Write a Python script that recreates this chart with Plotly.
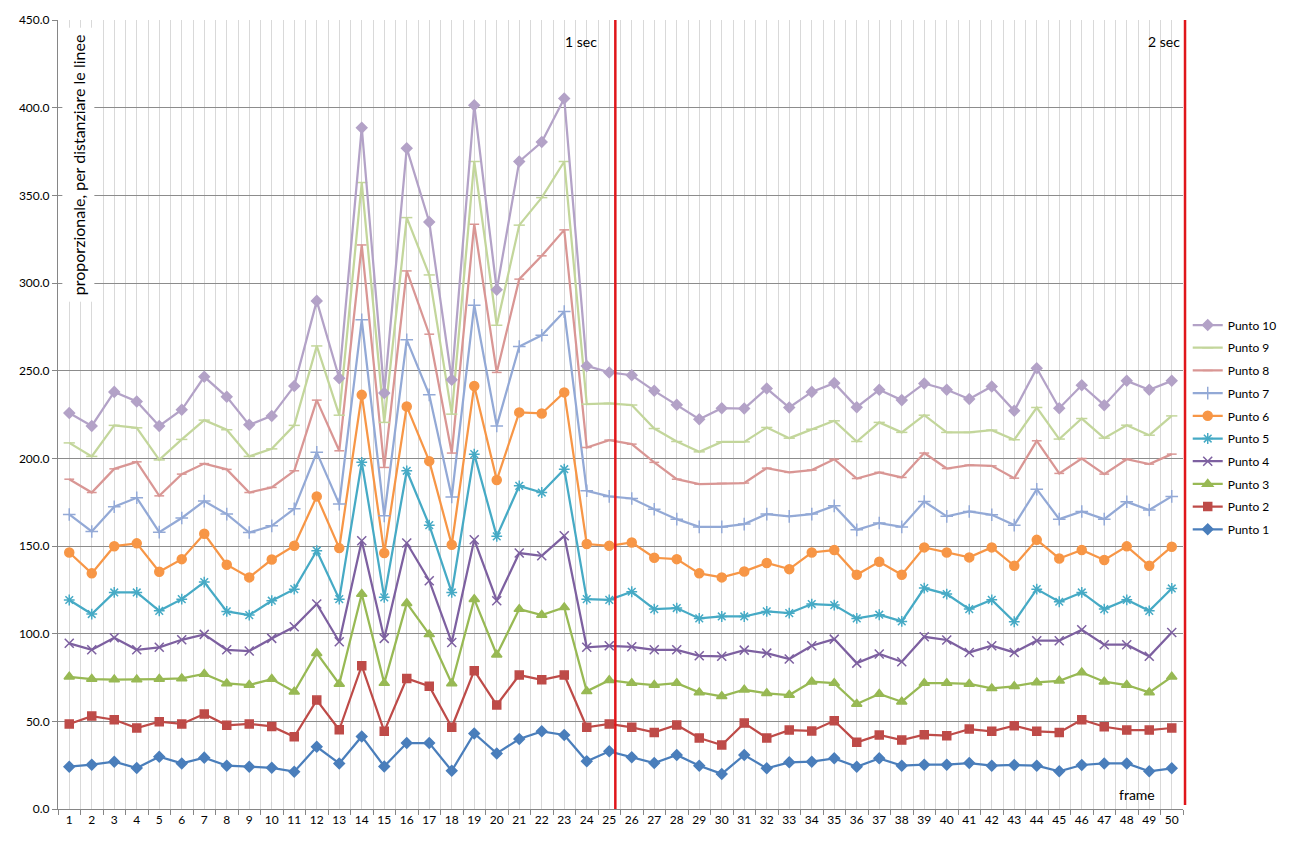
import plotly.graph_objects as go

frames = list(range(1, 51))

p1 = [24.1,25.3,27.0,23.4,29.8,26.0,29.3,24.7,24.1,23.5,21.3,35.5,
      26.0,41.4,24.3,37.6,37.6,21.8,43.1,31.7,39.9,44.3,42.2,27.2,32.9,29.5,26.2,
      30.8,24.7,20.0,30.8,23.2,26.6,27.0,28.9,24.1,28.9,24.7,25.3,25.3,26.2,
      24.7,25.1,24.7,21.5,25.1,26.0,26.0,21.5,23.2]
p2 = [48.5,53.0,50.9,46.2,49.8,48.5,54.2,47.7,48.5,47.1,41.2,62.1,
      45.2,81.7,44.3,74.5,70.0,46.6,78.9,59.3,76.4,73.7,76.4,46.6,48.5,46.6,43.7,
      47.9,40.5,36.5,49.0,40.5,45.0,44.5,50.3,38.0,42.2,39.3,42.4,41.8,45.6,
      44.3,47.5,44.3,43.7,50.9,46.9,45.0,45.0,46.2]
p3 = [75.4,74.1,73.8,73.8,74.1,74.5,77.0,71.6,70.7,74.1,66.9,88.9,
      71.3,122.6,71.8,117.4,99.6,71.6,119.7,88.0,114.0,110.6,115.0,67.1,73.5,71.8,70.7,
      71.8,66.5,64.3,68.0,66.0,65.0,72.6,71.8,59.9,65.6,61.2,71.8,71.8,71.3,
      68.8,70.0,72.2,73.1,77.9,72.6,70.7,66.5,75.4]
p4 = [94.5,90.8,97.7,90.8,92.2,96.5,99.6,90.8,90.1,97.3,103.9,116.9,
      95.4,153.0,97.3,151.7,130.2,95.0,153.6,118.8,146.0,144.4,155.8,92.2,93.1,92.5,90.8,
      90.8,87.4,87.1,90.6,88.9,85.5,93.1,96.9,83.2,88.4,84.0,98.2,96.4,89.3,
      93.1,89.3,96.0,96.0,102.2,93.7,93.7,87.1,100.7]
p5 = [119.2,111.2,123.5,123.5,113.0,119.7,129.4,112.7,110.6,118.8,125.4,147.3,
      119.7,197.7,120.7,192.9,161.9,123.5,202.4,155.5,184.3,180.5,193.8,119.7,119.3,123.9,114.0,
      114.6,108.7,109.8,109.8,112.7,111.7,116.9,116.3,108.7,110.8,107.0,126.0,122.6,114.0,
      119.3,106.8,125.4,118.2,123.5,114.0,119.3,113.0,125.8]
p6 = [146.3,134.4,149.9,151.5,135.3,142.5,157.0,139.3,132.1,142.3,150.1,178.3,
      148.8,236.2,146.0,229.6,198.4,150.7,241.3,187.6,226.2,225.6,237.6,151.1,150.1,152.0,143.3,
      142.5,134.4,132.1,135.5,140.3,136.8,146.3,147.7,133.6,141.0,133.6,149.2,146.3,143.5,
      149.2,138.7,153.5,142.9,147.7,142.0,149.8,138.7,149.6]
p7 = [168.0,158.3,172.4,177.5,157.9,166.0,175.6,168.2,157.7,161.5,171.2,203.4,
      173.9,279.0,167.2,267.6,236.2,178.0,287.3,218.5,263.8,270.2,283.7,181.5,178.3,177.1,171.0,
      165.3,160.9,160.9,162.5,168.2,166.9,168.2,172.9,159.2,163.1,160.9,175.4,166.9,169.7,
      167.8,161.9,182.4,165.3,169.7,165.3,175.2,170.5,178.3]
p8 = [188.1,180.5,194.0,198.0,178.6,191.0,197.0,193.7,180.5,183.4,192.9,233.2,
      204.3,321.7,194.8,306.9,270.8,203.0,333.5,249.0,302.2,315.5,330.3,206.2,210.4,208.1,197.7,
      188.1,185.3,185.7,185.9,194.4,192.0,193.3,199.5,188.5,192.0,189.1,203.0,194.2,196.1,
      195.7,188.7,210.0,191.4,199.9,191.0,199.5,196.7,202.4]
p9 = [208.8,201.1,218.8,217.4,199.1,210.8,221.8,216.3,201.1,205.4,218.8,264.1,
      224.6,357.3,220.5,337.3,304.6,225.2,369.3,275.9,333.0,348.7,369.3,230.9,231.3,230.4,217.0,
      209.6,203.7,209.4,209.4,217.6,211.5,216.6,221.4,209.6,220.5,214.8,224.6,214.8,214.8,
      216.1,210.6,229.0,211.0,222.7,211.5,218.9,213.2,224.2]
p10 = [225.8,218.5,237.9,232.4,218.5,227.7,246.5,235.1,219.1,224.2,241.2,289.8,
       245.7,388.6,237.2,376.9,334.8,244.8,401.4,296.1,369.3,380.4,405.2,252.7,249.0,247.4,238.5,
       230.5,222.3,228.6,228.4,239.8,229.0,237.9,242.9,229.2,239.1,233.2,242.7,239.1,233.8,
       241.0,227.1,251.4,228.6,241.7,230.3,244.2,239.1,244.2]

series_names = ["Punto 1", "Punto 2", "Punto 3", "Punto 4", "Punto 5",
                "Punto 6", "Punto 7", "Punto 8", "Punto 9", "Punto 10"]
series_values = [p1, p2, p3, p4, p5, p6, p7, p8, p9, p10]

colors = ["#4A7EBB", "#BE4B48", "#98B954", "#7D60A0", "#46AAC5",
          "#F79646", "#93A9D6", "#D99694", "#C3D69B", "#B3A2C7"]
symbols = ["diamond", "square", "triangle-up", "x-thin-open", "asterisk-open",
           "circle", "cross-thin-open", "line-ew-open", "line-ew-open", "diamond"]
sizes = [8, 8, 9, 9, 9, 9, 9, 7, 8, 8]

sec_labels = ["1 sec", "2 sec"]

fig = go.Figure()
n = len(series_names)
for i, (name, vals, c, s, sz) in enumerate(zip(series_names, series_values, colors, symbols, sizes)):
    fig.add_trace(go.Scatter(
        x=frames, y=vals, name=name, mode="lines+markers", legendgroup=name,
        legendrank=(n - i) * 10,
        line=dict(color=c, width=2.25),
        marker=dict(symbol=s, size=sz, color=c, line=dict(color=c, width=1.5)),
    ))

FONT = "Lato"
RED = "#E0161B"

# 1 sec marker line (inside the data range) and 2 sec line at the right edge
fig.add_shape(type="line", xref="x", yref="y", x0=25.27, x1=25.27, y0=0, y1=450,
              line=dict(color=RED, width=2.5), layer="above")
fig.add_shape(type="line", xref="paper", yref="paper", x0=1.0018, x1=1.0018, y0=0.005, y1=1,
              line=dict(color=RED, width=2.5), layer="above")

fig.add_annotation(x=23.75, y=438, xref="x", yref="y", text=sec_labels[0],
                   showarrow=False, font=dict(family=FONT, size=14, color="#000000"))
fig.add_annotation(x=49.65, y=438, xref="x", yref="y", text=sec_labels[1],
                   showarrow=False, font=dict(family=FONT, size=14, color="#000000"))
fig.add_annotation(x=48.45, y=8, xref="x", yref="y", text="frame",
                   showarrow=False, font=dict(family=FONT, size=14, color="#000000"))

fig.add_annotation(x=0.0178, y=0.816, xref="paper", yref="paper",
                   xanchor="center", yanchor="middle",
                   text="proporzionale, per distanziare le linee", textangle=-90,
                   showarrow=False, bgcolor="#FFFFFF", borderpad=6,
                   font=dict(family=FONT, size=16, color="#000000"))

# outer chart border
fig.add_shape(type="rect", xref="paper", yref="paper",
              x0=-0.0471, x1=1.0942, y0=-0.06, y1=1.0165,
              line=dict(color="#A6A6A6", width=1), layer="below")

fig.update_layout(
    width=1283, height=841,
    margin=dict(l=50, r=108, t=12, b=40, autoexpand=False),
    paper_bgcolor="#FFFFFF", plot_bgcolor="#FFFFFF",
    font=dict(family=FONT, size=12, color="#000000"),
    showlegend=True,
    legend=dict(x=1.0042, y=0.4835, xanchor="left", yanchor="middle",
                traceorder="grouped", tracegroupgap=3.7,
                font=dict(family=FONT, size=12, color="#000000"),
                bgcolor="rgba(0,0,0,0)", itemwidth=30),
    xaxis=dict(
        range=[0.5, 50.5], tickvals=frames, ticktext=[str(f) for f in frames],
        showgrid=True, gridcolor="#D9D9D9", gridwidth=1, automargin=False,
        ticks="", showline=True, linecolor="#868686", linewidth=1,
        zeroline=False,
        tickfont=dict(family=FONT, size=12, color="#000000"),
        minor=dict(tick0=0.5, dtick=1, showgrid=True, gridcolor="#D9D9D9",
                   ticks="outside", ticklen=5, tickcolor="#868686"),
    ),
    yaxis=dict(
        range=[0, 450], dtick=50, tickformat=".1f", automargin=False,
        showgrid=True, gridcolor="#8C8C8C", gridwidth=1,
        ticks="outside", ticklen=5, tickcolor="#868686",
        showline=True, linecolor="#868686", linewidth=1, zeroline=False,
        tickfont=dict(family=FONT, size=12, color="#000000"),
    ),
)

fig.write_html("out.html")
